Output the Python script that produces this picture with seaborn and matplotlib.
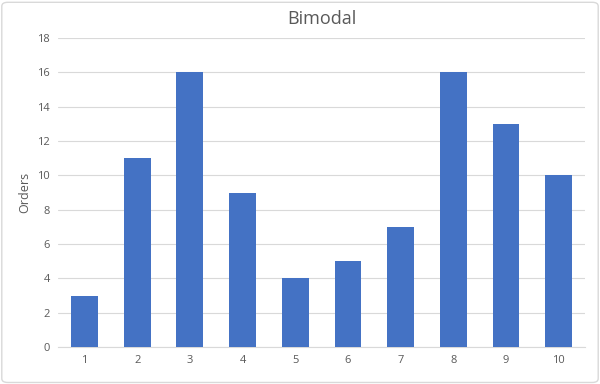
import matplotlib
matplotlib.use("Agg")
import pandas as pd
import seaborn as sns
import matplotlib.pyplot as plt
from matplotlib.patches import FancyBboxPatch

# data
kategoriler = ["1", "2", "3", "4", "5", "6", "7", "8", "9", "10"]
siparis = [3, 11, 16, 9, 4, 5, 7, 16, 13, 10]
y_ticks = [0, 2, 4, 6, 8, 10, 12, 14, 16, 18]

veri = pd.DataFrame({"Kategori": kategoriler, "Orders": siparis})

sns.set_style("white")
plt.rcParams["font.family"] = ["Open Sans", "DejaVu Sans"]

fig = plt.figure(figsize=(6, 3.84), dpi=100)
ax = fig.add_axes([0.097, 0.096, 0.878, 0.805])

sns.barplot(data=veri, x="Kategori", y="Orders", color="#4472C4",
            saturation=1, width=0.51, linewidth=0, ax=ax, zorder=3)

ax.set_ylim(0, 18)
ax.set_yticks(y_ticks)
ax.grid(axis="y", color="#D9D9D9", linewidth=0.8, zorder=0)
ax.set_axisbelow(True)
for s in ["top", "right", "left"]:
    ax.spines[s].set_visible(False)
ax.spines["bottom"].set_color("#D9D9D9")
ax.tick_params(axis="both", length=0, labelsize=8, colors="#595959", pad=6)
ax.set_xlabel("")
ax.set_ylabel("Orders", fontsize=9, color="#595959", labelpad=4)
ax.set_title("Bimodal", fontsize=13, color="#595959", pad=10)

# chart border
kenar = FancyBboxPatch((0.003, 0.004), 0.994, 0.99, boxstyle="round,pad=0,rounding_size=0.01",
                       transform=fig.transFigure, fill=False, edgecolor="#D9D9D9", linewidth=1)
fig.patches.append(kenar)

fig.savefig("out.png", dpi=100)
